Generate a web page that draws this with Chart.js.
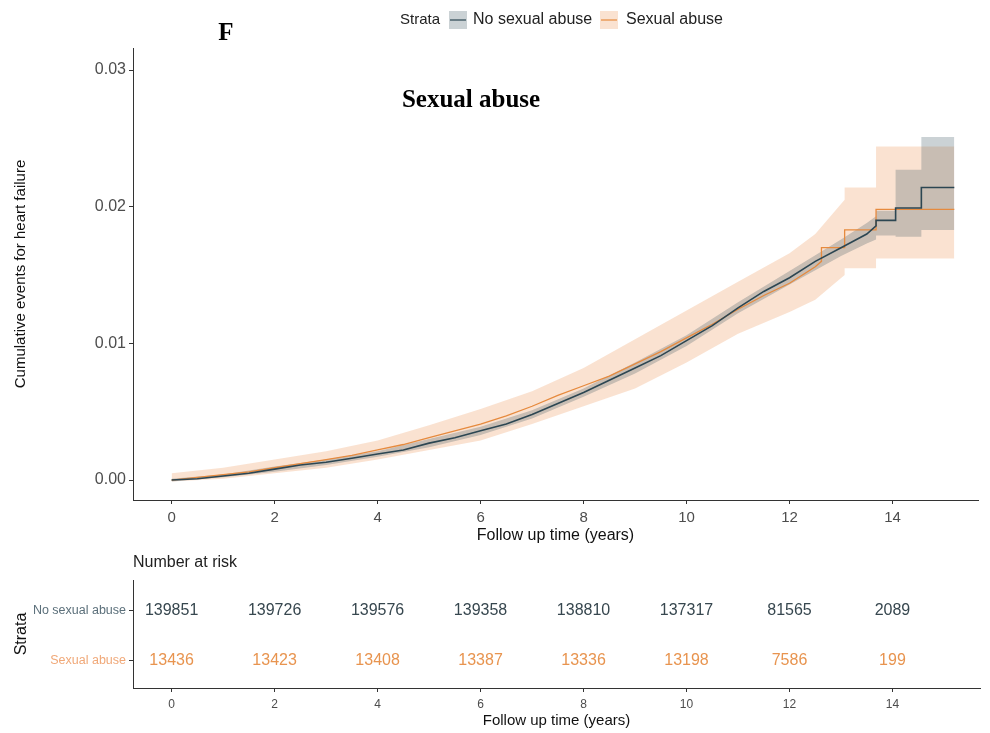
<!DOCTYPE html>
<html>
<head>
<meta charset="utf-8">
<script src="https://cdn.jsdelivr.net/npm/chart.js@4/dist/chart.umd.min.js"></script>
<style>
  html, body { margin: 0; padding: 0; background: #ffffff; }
  #wrap { position: relative; width: 990px; height: 733px; overflow: hidden; }
  #curve { position: absolute; left: 0; top: 0; }
  #risk { position: absolute; left: 0; top: 546px; }
</style>
</head>
<body>
<div id="wrap">
  <canvas id="curve" width="990" height="546"></canvas>
  <canvas id="risk" width="990" height="187"></canvas>
</div>
<script>
// Strata
const strata = ['No sexual abuse', 'Sexual abuse'];

// Cumulative incidence, no sexual abuse (years, proportion)
const timeNoAbuse = [0, 0.5, 1, 1.5, 2, 2.5, 3, 3.5, 4, 4.5, 5, 5.5, 6, 6.5, 7, 7.5, 8, 8.5, 9, 9.5,
  10, 10.5, 11, 11.5, 12, 12.5, 13, 13.5, 13.68, 13.68, 14.06, 14.06, 14.56, 14.56, 15.2];
const cumNoAbuse = [0, 0.0001, 0.0003, 0.0005, 0.0008, 0.0011, 0.0013, 0.0016, 0.0019, 0.0022,
  0.0027, 0.0031, 0.0036, 0.0041, 0.0048, 0.0056, 0.0064, 0.0073, 0.0082, 0.0091,
  0.0102, 0.0113, 0.0126, 0.0138, 0.0148, 0.0160, 0.0170, 0.0180, 0.0186, 0.0190, 0.0190, 0.0199, 0.0199, 0.0214, 0.0214];

// Cumulative incidence, sexual abuse
const timeAbuse = [0, 0.5, 1, 1.5, 2, 2.5, 3, 3.5, 4, 4.5, 5, 5.5, 6, 6.5, 7, 7.5, 8, 8.5, 9, 9.5,
  10, 10.5, 11, 11.5, 12, 12.5, 12.62, 12.62, 13.07, 13.07, 13.68, 13.68, 15.2];
const cumAbuse = [0, 0.0002, 0.0004, 0.0006, 0.0009, 0.0012, 0.0015, 0.0018, 0.0022, 0.0026,
  0.0031, 0.0036, 0.0041, 0.0047, 0.0054, 0.0062, 0.0069, 0.0076, 0.0085, 0.0094,
  0.0104, 0.0114, 0.0125, 0.0135, 0.0144, 0.0156, 0.0160, 0.0170, 0.0170, 0.0183, 0.0183, 0.0198, 0.0198];

// 95% confidence band, no sexual abuse
const bandTimeNoAbuse = [0, 1, 2, 3, 4, 5, 6, 7, 8, 9, 10, 11, 12, 13, 13.5, 13.68, 13.68, 14.06, 14.06, 14.56, 14.56, 15.2];
const upperNoAbuse = [0.0001, 0.0004, 0.0010, 0.0015, 0.0021, 0.0030, 0.0039, 0.0051, 0.0067, 0.0086,
  0.0106, 0.0130, 0.0153, 0.0176, 0.0188, 0.0193, 0.0197, 0.0197, 0.0227, 0.0227, 0.0251, 0.0251];
const lowerNoAbuse = [-0.0001, 0.0002, 0.0006, 0.0011, 0.0017, 0.0024, 0.0033, 0.0045, 0.0061, 0.0078,
  0.0098, 0.0122, 0.0143, 0.0164, 0.0173, 0.0176, 0.0179, 0.0179, 0.0178, 0.0178, 0.0183, 0.0183];

// 95% confidence band, sexual abuse
const bandTimeAbuse = [0, 1, 2, 3, 4, 5, 6, 7, 8, 9, 10, 11, 12, 12.5, 13.07, 13.07, 13.68, 13.68, 15.2];
const upperAbuse = [0.0005, 0.0009, 0.0015, 0.0021, 0.0029, 0.0040, 0.0052, 0.0065, 0.0082, 0.0103,
  0.0124, 0.0145, 0.0166, 0.0180, 0.0205, 0.0214, 0.0214, 0.0244, 0.0244];
const lowerAbuse = [-0.0001, 0.0001, 0.0005, 0.0009, 0.0015, 0.0022, 0.0029, 0.0041, 0.0054, 0.0067,
  0.0086, 0.0107, 0.0123, 0.0132, 0.0150, 0.0155, 0.0155, 0.0162, 0.0162];

// Number at risk
const riskTimes = [0, 2, 4, 6, 8, 10, 12, 14];
const riskNoAbuse = [139851, 139726, 139576, 139358, 138810, 137317, 81565, 2089];
const riskAbuse = [13436, 13423, 13408, 13387, 13336, 13198, 7586, 199];

// Axis ticks
const xTicks = [0, 2, 4, 6, 8, 10, 12, 14];
const yTicks = [0, 0.01, 0.02, 0.03];

const SANS = "'Liberation Sans', Arial, sans-serif";
const SERIF = "'Liberation Serif', 'Times New Roman', serif";
const DARK = '#2c4652';
const ORANGE = '#e68a3e';
const DARK_FILL = 'rgba(46,74,87,0.25)';
const ORANGE_FILL = 'rgba(240,160,104,0.30)';
const AXIS = '#333333';
const X_MIN = -0.75, X_MAX = 15.66;

const pts = (xs, ys) => xs.map((x, i) => ({ x: x, y: ys[i] }));

// Titles and strata key drawn above the plot
const curveDecor = {
  id: 'curveDecor',
  afterDraw(chart) {
    const ctx = chart.ctx;
    ctx.save();
    ctx.fillStyle = '#000';
    ctx.font = 'bold 25px ' + SERIF;
    ctx.textBaseline = 'alphabetic';
    ctx.textAlign = 'center';
    ctx.fillText('F', 226, 40);
    ctx.fillText('Sexual abuse', 471, 107);

    ctx.textAlign = 'left';
    ctx.textBaseline = 'middle';
    ctx.fillStyle = '#222';
    ctx.font = '15px ' + SANS;
    ctx.fillText('Strata', 400, 20);
    ctx.font = '16px ' + SANS;
    const keys = [
      { box: 449, text: 473, fill: DARK_FILL, line: DARK, label: strata[0] },
      { box: 600, text: 626, fill: ORANGE_FILL, line: ORANGE, label: strata[1] }
    ];
    keys.forEach(k => {
      ctx.fillStyle = k.fill;
      ctx.fillRect(k.box, 11, 18, 18);
      ctx.strokeStyle = k.line;
      ctx.lineWidth = 1.2;
      ctx.beginPath();
      ctx.moveTo(k.box + 1, 20);
      ctx.lineTo(k.box + 17, 20);
      ctx.stroke();
      ctx.fillStyle = '#222';
      ctx.fillText(k.label, k.text, 20);
    });
    ctx.restore();
  }
};

new Chart(document.getElementById('curve'), {
  type: 'line',
  data: {
    datasets: [
      { label: strata[0], data: pts(timeNoAbuse, cumNoAbuse), borderColor: DARK, borderWidth: 1.6, pointRadius: 0, fill: false, tension: 0 },
      { label: strata[1], data: pts(timeAbuse, cumAbuse), borderColor: ORANGE, borderWidth: 1.3, pointRadius: 0, fill: false, tension: 0 },
      { label: 'upperNoAbuse', data: pts(bandTimeNoAbuse, upperNoAbuse), borderWidth: 0, borderColor: 'transparent', pointRadius: 0, fill: '+1', backgroundColor: DARK_FILL, tension: 0 },
      { label: 'lowerNoAbuse', data: pts(bandTimeNoAbuse, lowerNoAbuse), borderWidth: 0, borderColor: 'transparent', pointRadius: 0, fill: false, tension: 0 },
      { label: 'upperAbuse', data: pts(bandTimeAbuse, upperAbuse), borderWidth: 0, borderColor: 'transparent', pointRadius: 0, fill: '+1', backgroundColor: ORANGE_FILL, tension: 0 },
      { label: 'lowerAbuse', data: pts(bandTimeAbuse, lowerAbuse), borderWidth: 0, borderColor: 'transparent', pointRadius: 0, fill: false, tension: 0 }
    ]
  },
  options: {
    responsive: false,
    animation: false,
    events: [],
    layout: { padding: { top: 48, right: 12, left: 0, bottom: 0 } },
    plugins: { legend: { display: false }, tooltip: { enabled: false } },
    scales: {
      x: {
        type: 'linear', min: X_MIN, max: X_MAX,
        afterFit: s => { s.height = 46; },
        afterBuildTicks: s => { s.ticks = xTicks.map(v => ({ value: v })); },
        grid: { drawOnChartArea: false, drawTicks: true, tickLength: 4, color: AXIS },
        border: { display: true, color: AXIS, width: 1 },
        ticks: { font: { family: SANS, size: 15 }, color: '#4d4d4d', padding: 5, maxRotation: 0, callback: v => String(v) },
        title: { display: true, text: 'Follow up time (years)', font: { family: SANS, size: 16 }, color: '#111', padding: { top: 0, bottom: 1 } }
      },
      y: {
        type: 'linear', min: -0.00146, max: 0.03161,
        afterFit: s => { s.width = 133; },
        afterBuildTicks: s => { s.ticks = yTicks.map(v => ({ value: v })); },
        grid: { drawOnChartArea: false, drawTicks: true, tickLength: 4, color: AXIS },
        border: { display: true, color: AXIS, width: 1 },
        ticks: { font: { family: SANS, size: 16 }, color: '#4d4d4d', padding: 3, callback: v => v.toFixed(2) },
        title: { display: true, text: 'Cumulative events for heart failure', font: { family: SANS, size: 15 }, color: '#111', padding: { top: 12, bottom: 0 } }
      }
    }
  },
  plugins: [curveDecor]
});

// Risk table: numbers and heading
const riskDecor = {
  id: 'riskDecor',
  afterDatasetsDraw(chart) {
    const ctx = chart.ctx;
    const xs = chart.scales.x, ys = chart.scales.y;
    ctx.save();
    ctx.font = '16px ' + SANS;
    ctx.textAlign = 'center';
    ctx.textBaseline = 'middle';
    riskTimes.forEach((t, i) => {
      ctx.fillStyle = '#37474f';
      ctx.fillText(String(riskNoAbuse[i]), xs.getPixelForValue(t), ys.getPixelForValue(1));
      ctx.fillStyle = '#e8944f';
      ctx.fillText(String(riskAbuse[i]), xs.getPixelForValue(t), ys.getPixelForValue(0));
    });
    ctx.textAlign = 'left';
    ctx.fillStyle = '#222';
    ctx.font = '16px ' + SANS;
    ctx.fillText('Number at risk', chart.chartArea.left, 17);
    ctx.restore();
  }
};

new Chart(document.getElementById('risk'), {
  type: 'scatter',
  data: {
    datasets: [
      { label: strata[0], data: riskTimes.map(t => ({ x: t, y: 1 })), pointRadius: 0 },
      { label: strata[1], data: riskTimes.map(t => ({ x: t, y: 0 })), pointRadius: 0 }
    ]
  },
  options: {
    responsive: false,
    animation: false,
    events: [],
    layout: { padding: { top: 34, right: 10, left: 0, bottom: 0 } },
    plugins: { legend: { display: false }, tooltip: { enabled: false } },
    scales: {
      x: {
        type: 'linear', min: X_MIN, max: 15.70,
        afterFit: s => { s.height = 45; },
        afterBuildTicks: s => { s.ticks = xTicks.map(v => ({ value: v })); },
        grid: { drawOnChartArea: false, drawTicks: true, tickLength: 4, color: AXIS },
        border: { display: true, color: AXIS, width: 1 },
        ticks: { font: { family: SANS, size: 12 }, color: '#4d4d4d', padding: 5, maxRotation: 0, callback: v => String(v) },
        title: { display: true, text: 'Follow up time (years)', font: { family: SANS, size: 15 }, color: '#111', padding: { top: 0, bottom: 3 } }
      },
      y: {
        type: 'linear', min: -0.55, max: 1.6,
        afterFit: s => { s.width = 133; },
        afterBuildTicks: s => { s.ticks = [1, 0].map(v => ({ value: v })); },
        grid: { drawOnChartArea: false, drawTicks: true, tickLength: 4, color: AXIS },
        border: { display: true, color: AXIS, width: 1 },
        ticks: {
          font: { family: SANS, size: 12.5 }, padding: 3,
          color: c => (c.tick && c.tick.value === 1) ? '#5b6f7a' : '#f0a878',
          callback: v => v === 1 ? strata[0] : strata[1]
        },
        title: { display: true, text: 'Strata', font: { family: SANS, size: 16 }, color: '#111', padding: { top: 12, bottom: 0 } }
      }
    }
  },
  plugins: [riskDecor]
});
</script>
</body>
</html>
